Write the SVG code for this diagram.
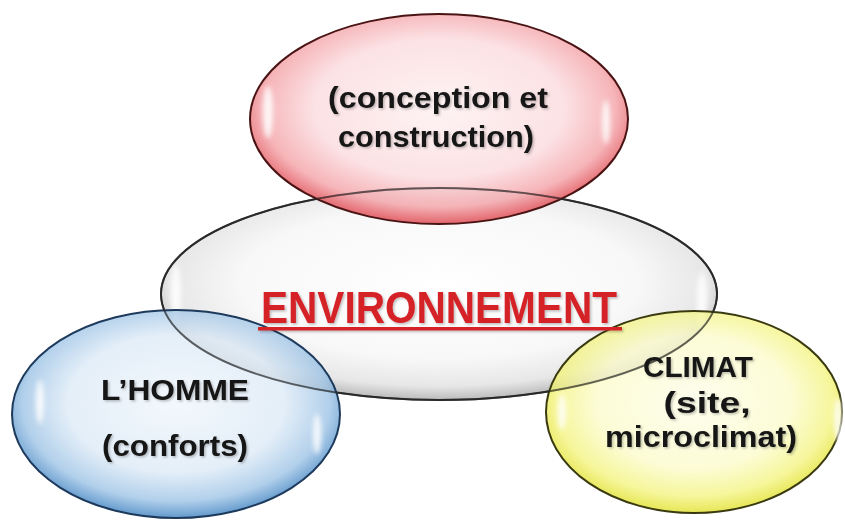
<svg xmlns="http://www.w3.org/2000/svg" width="845" height="521" viewBox="0 0 845 521">
  <style>
    .lbl { font-family: "Liberation Sans", Arial, sans-serif; font-weight: bold; font-size: 29px; fill: #141414; text-anchor: middle; }
    .title { font-family: "Liberation Sans", Arial, sans-serif; font-weight: bold; font-size: 44px; fill: #d42028; text-anchor: middle; }
    .bubble { stroke-width: 2; }
    .shine { fill: #ffffff; opacity: 0.85; }
  </style>
  <defs>
    <radialGradient id="gRed" cx="0.5" cy="0.45" r="0.55">
      <stop offset="0" stop-color="#fdeff0"/>
      <stop offset="0.6" stop-color="#fbdadd"/>
      <stop offset="0.85" stop-color="#f3a0a5"/>
      <stop offset="1" stop-color="#dc3a43"/>
    </radialGradient>
    <radialGradient id="gGray" cx="0.5" cy="0.45" r="0.55">
      <stop offset="0" stop-color="#ffffff"/>
      <stop offset="0.65" stop-color="#f7f7f7"/>
      <stop offset="0.88" stop-color="#e4e4e4"/>
      <stop offset="1" stop-color="#b4b4b4"/>
    </radialGradient>
    <radialGradient id="gBlue" cx="0.5" cy="0.45" r="0.55">
      <stop offset="0" stop-color="#eef5fb"/>
      <stop offset="0.6" stop-color="#dbe9f6"/>
      <stop offset="0.85" stop-color="#98c0e4"/>
      <stop offset="1" stop-color="#2f78bc"/>
    </radialGradient>
    <radialGradient id="gYellow" cx="0.5" cy="0.45" r="0.55">
      <stop offset="0" stop-color="#fdfde8"/>
      <stop offset="0.6" stop-color="#fbfbc8"/>
      <stop offset="0.85" stop-color="#f3f37a"/>
      <stop offset="1" stop-color="#dede1c"/>
    </radialGradient>
    <filter id="soft" x="-50%" y="-50%" width="200%" height="200%">
      <feGaussianBlur stdDeviation="2.5"/>
    </filter>
    <filter id="txtShadow" x="-10%" y="-30%" width="120%" height="160%">
      <feDropShadow dx="1.5" dy="1.5" stdDeviation="1.2" flood-color="#000000" flood-opacity="0.25"/>
    </filter>
  </defs>

  <!-- central bubble -->
  <g id="environnement">
    <ellipse class="bubble" cx="439" cy="294" rx="278" ry="106" fill="url(#gGray)" stroke="#2a2a2a" fill-opacity="0.9"/>
    <ellipse class="shine" cx="176" cy="294" rx="5" ry="30" filter="url(#soft)" opacity="0.6"/>
    <ellipse class="shine" cx="702" cy="300" rx="5" ry="28" filter="url(#soft)" opacity="0.6"/>
  </g>

  <!-- top bubble -->
  <g id="conception">
    <ellipse class="bubble" cx="439" cy="119" rx="189" ry="105" fill="url(#gRed)" stroke="#4a1414" fill-opacity="0.78"/>
    <ellipse class="shine" cx="268" cy="112" rx="5" ry="26" filter="url(#soft)"/>
    <ellipse class="shine" cx="606" cy="122" rx="4" ry="22" filter="url(#soft)"/>
  </g>

  <!-- left bubble -->
  <g id="homme">
    <ellipse class="bubble" cx="176" cy="414" rx="164" ry="104" fill="url(#gBlue)" stroke="#1d3a5c" fill-opacity="0.75"/>
    <ellipse class="shine" cx="40" cy="402" rx="4" ry="22" filter="url(#soft)"/>
    <ellipse class="shine" cx="317" cy="434" rx="4" ry="20" filter="url(#soft)"/>
  </g>

  <!-- right bubble -->
  <g id="climat">
    <ellipse class="bubble" cx="694" cy="412" rx="148" ry="101" fill="url(#gYellow)" stroke="#3a3a10" fill-opacity="0.75"/>
    <ellipse class="shine" cx="838" cy="420" rx="4" ry="22" filter="url(#soft)"/>
    <ellipse class="shine" cx="562" cy="412" rx="4" ry="18" filter="url(#soft)" opacity="0.5"/>
  </g>

  <!-- outline of the central bubble, seen through the overlapping ones -->
  <g id="environnement-outline">
    <ellipse cx="439" cy="294" rx="278" ry="106" fill="none" stroke="#2a2a2a" stroke-width="1.8" stroke-opacity="0.65"/>
  </g>

  <!-- labels -->
  <g id="labels">
    <text class="lbl" x="438" y="108" textLength="220" lengthAdjust="spacingAndGlyphs" filter="url(#txtShadow)">(conception et</text>
    <text class="lbl" x="436" y="147" textLength="196" lengthAdjust="spacingAndGlyphs" filter="url(#txtShadow)">construction)</text>

    <g filter="url(#txtShadow)">
      <text class="title" x="439" y="323" textLength="356" lengthAdjust="spacingAndGlyphs">ENVIRONNEMENT</text>
      <rect x="258" y="327" width="364" height="3.5" fill="#d42028"/>
    </g>

    <text class="lbl" x="175" y="400" textLength="148" lengthAdjust="spacingAndGlyphs" filter="url(#txtShadow)">L’HOMME</text>
    <text class="lbl" x="175" y="456" textLength="146" lengthAdjust="spacingAndGlyphs" filter="url(#txtShadow)">(conforts)</text>

    <text class="lbl" x="698" y="377" textLength="110" lengthAdjust="spacingAndGlyphs" filter="url(#txtShadow)">CLIMAT</text>
    <text class="lbl" x="707" y="413" textLength="87" lengthAdjust="spacingAndGlyphs" filter="url(#txtShadow)">(site,</text>
    <text class="lbl" x="701" y="447" textLength="192" lengthAdjust="spacingAndGlyphs" filter="url(#txtShadow)">microclimat)</text>
  </g>
</svg>
